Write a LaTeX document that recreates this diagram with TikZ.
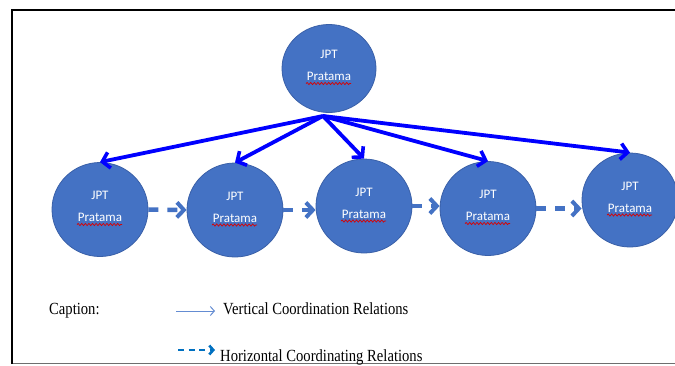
\documentclass[tikz,border=0pt]{standalone}
\usepackage{fontspec}
\newfontfamily\calib{Carlito}
\newfontfamily\tnr{Liberation Serif}
\usetikzlibrary{arrows.meta,shapes.geometric,decorations.pathmorphing,calc}
\definecolor{circfill}{RGB}{68,114,196}
\definecolor{circborder}{RGB}{58,96,168}
\definecolor{vblue}{RGB}{0,0,255}
\definecolor{legsolidc}{RGB}{100,140,210}
\definecolor{legdashc}{RGB}{0,112,192}
\definecolor{framegray}{RGB}{110,110,110}
\begin{document}
\begin{tikzpicture}[x=1pt,y=-1pt,
  circ/.style={ellipse, fill=circfill, draw=circborder, line width=0.8pt,
    minimum width=96pt, minimum height=94pt, inner sep=0pt},
  lbl/.style={text=white, font=\calib\fontsize{13}{22}\selectfont, align=center, inner sep=0pt},
  varrow/.style={draw=vblue, line width=3.8pt,
    -{Straight Barb[length=7pt,width=16pt,line width=3.6pt]}},
  harrow/.style={draw=circfill, line width=4.5pt, dash pattern=on 10pt off 9pt,
    -{Straight Barb[length=7pt,width=15pt,line width=4pt]}},
  squig/.style={draw=red!85!black, line width=0.7pt, decorate,
    decoration={snake, segment length=3.6pt, amplitude=1.1pt}},
  captext/.style={font=\tnr\fontsize{17}{19}\selectfont, inner sep=0pt, anchor=base west},
  legsolid/.style={draw=legsolidc, line width=1pt,
    -{Straight Barb[length=4pt,width=9pt,line width=1pt]}},
  legdash/.style={draw=legdashc, line width=2.6pt, dash pattern=on 6pt off 4.5pt,
    -{Straight Barb[length=4pt,width=9pt,line width=2.6pt]}}]
\useasboundingbox (0,0) rectangle (675,365);
% frame
\draw[framegray, line width=1.2pt] (11.5,363.5) -- (690,363.5);
\draw[black, line width=2pt] (11.5,364) -- (11.5,10) -- (690,10);
% circles
\node[circ, minimum width=94pt, minimum height=88pt] (c0) at (329,68.5) {};
\node[circ] (c1) at (100,209.5) {};
\node[circ] (c2) at (235,210) {};
\node[circ] (c3) at (364,206) {};
\node[circ] (c4) at (488,208.5) {};
\node[circ] (c5) at (630,200) {};
\foreach \i in {0,...,5}{
  \node[lbl] (t\i) at ([yshift=3pt]c\i.center) {JPT\\Pratama};
  \draw[squig] ([xshift=-23pt,yshift=-15pt]c\i.center) -- ([xshift=22pt,yshift=-15pt]c\i.center);
}
% vertical coordination arrows
\coordinate (o) at (323,116);
\foreach \i in {1,...,5}{
  \draw[varrow] (o) -- (c\i.north);
}
% horizontal coordination arrows
\draw[harrow] (c1.east) -- (c2.west);
\draw[harrow] (c2.east) -- (c2.east -| c3.west);
\draw[harrow] (c3.east) -- (c3.east -| c4.west);
\draw[harrow] (c4.east) -- (c4.east -| c5.west);
% legend
\node[captext] (cap) at (49,314.5) {\scalebox{0.86}[1]{Caption:}};
\coordinate (ls1) at (176,311);
\coordinate (ls2) at (215,311);
\draw[legsolid] (ls1) -- (ls2);
\node[captext] (vl) at (223,314.5) {\scalebox{0.86}[1]{Vertical Coordination Relations}};
\coordinate (ld1) at (178,350);
\coordinate (ld2) at (215,350);
\draw[legdash] (ld1) -- (ld2);
\node[captext] (hl) at (220,361) {\scalebox{0.86}[1]{Horizontal Coordinating Relations}};
\end{tikzpicture}
\end{document}
